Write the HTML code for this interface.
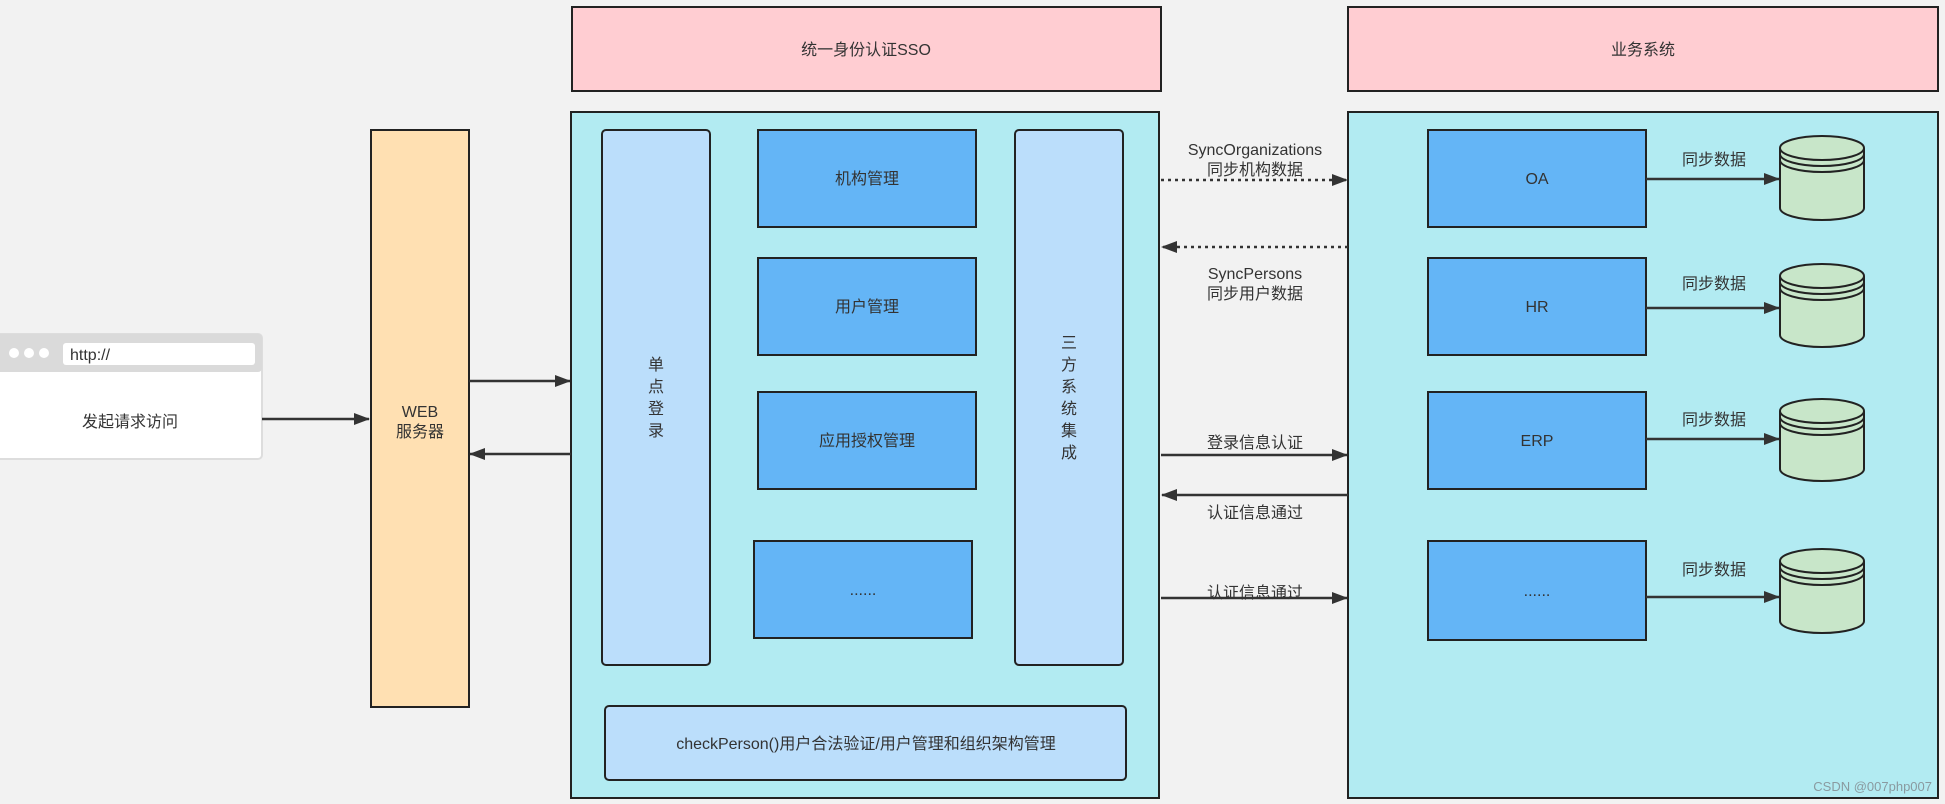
<!DOCTYPE html>
<html><head><meta charset="utf-8"><style>
html,body{margin:0;padding:0;background:#f2f2f2;}
svg{display:block;}
text{font-family:"Liberation Sans","Noto Sans CJK SC",sans-serif;font-size:16px;fill:#333;}
</style></head><body>
<svg width="1945" height="804" viewBox="0 0 1945 804" xmlns="http://www.w3.org/2000/svg">
<defs>
<marker id="a" viewBox="0 0 16 12" refX="15" refY="6" markerWidth="16" markerHeight="12" orient="auto-start-reverse" markerUnits="userSpaceOnUse">
<path d="M0,0 L16,6 L0,12 Z" fill="#333"/>
</marker>
</defs>
<rect width="1945" height="804" fill="#f2f2f2"/>
<rect x="572" y="7" width="589" height="84" fill="#ffcdd2" stroke="#222" stroke-width="2"/>
<text x="866" y="55" text-anchor="middle">统一身份认证SSO</text>
<rect x="1348" y="7" width="590" height="84" fill="#ffcdd2" stroke="#222" stroke-width="2"/>
<text x="1643" y="55" text-anchor="middle">业务系统</text>
<rect x="571" y="112" width="588" height="686" fill="#b2ebf2" stroke="#222" stroke-width="2"/>
<rect x="1348" y="112" width="590" height="686" fill="#b2ebf2" stroke="#222" stroke-width="2"/>
<rect x="-4" y="334" width="266" height="125" rx="4" fill="#fff" stroke="#ddd" stroke-width="2"/>
<rect x="-4" y="334" width="266" height="38" rx="4" fill="#dadada"/>
<circle cx="14" cy="353" r="5" fill="#fff"/><circle cx="29" cy="353" r="5" fill="#fff"/><circle cx="44" cy="353" r="5" fill="#fff"/>
<rect x="63" y="343" width="192" height="22" rx="3" fill="#fff"/>
<text x="70" y="360">http://</text>
<text x="130" y="427" text-anchor="middle">发起请求访问</text>
<rect x="371" y="130" width="98" height="577" fill="#ffe0b2" stroke="#222" stroke-width="2"/>
<text x="420" y="417" text-anchor="middle">WEB</text>
<text x="420" y="437" text-anchor="middle">服务器</text>
<rect x="602" y="130" width="108" height="535" rx="4" fill="#bbdefb" stroke="#222" stroke-width="2"/>
<text x="656" y="370" text-anchor="middle">单</text><text x="656" y="392" text-anchor="middle">点</text><text x="656" y="414" text-anchor="middle">登</text><text x="656" y="436" text-anchor="middle">录</text>
<rect x="1015" y="130" width="108" height="535" rx="4" fill="#bbdefb" stroke="#222" stroke-width="2"/>
<text x="1069" y="348" text-anchor="middle">三</text><text x="1069" y="370" text-anchor="middle">方</text><text x="1069" y="392" text-anchor="middle">系</text><text x="1069" y="414" text-anchor="middle">统</text><text x="1069" y="436" text-anchor="middle">集</text><text x="1069" y="458" text-anchor="middle">成</text>
<g fill="#64b5f6" stroke="#222" stroke-width="2">
<rect x="758" y="130" width="218" height="97"/>
<rect x="758" y="258" width="218" height="97"/>
<rect x="758" y="392" width="218" height="97"/>
<rect x="754" y="541" width="218" height="97"/>
<rect x="1428" y="130" width="218" height="97"/>
<rect x="1428" y="258" width="218" height="97"/>
<rect x="1428" y="392" width="218" height="97"/>
<rect x="1428" y="541" width="218" height="99"/>
</g>
<text x="867" y="184" text-anchor="middle">机构管理</text>
<text x="867" y="312" text-anchor="middle">用户管理</text>
<text x="867" y="446" text-anchor="middle">应用授权管理</text>
<text x="863" y="595" text-anchor="middle">......</text>
<text x="1537" y="184" text-anchor="middle">OA</text>
<text x="1537" y="312" text-anchor="middle">HR</text>
<text x="1537" y="446" text-anchor="middle">ERP</text>
<text x="1537" y="596" text-anchor="middle">......</text>
<rect x="605" y="706" width="521" height="74" rx="4" fill="#bbdefb" stroke="#222" stroke-width="2"/>
<text x="866" y="749" text-anchor="middle">checkPerson()用户合法验证/用户管理和组织架构管理</text>
<g fill="#c8e6c9" stroke="#222" stroke-width="2">
<g transform="translate(1780,136)"><path d="M0,12 L0,72 A42,12 0 0 0 84,72 L84,12"/><ellipse cx="42" cy="12" rx="42" ry="12"/><path d="M0,18 A42,12 0 0 0 84,18 M0,24 A42,12 0 0 0 84,24" fill="none"/></g>
<g transform="translate(1780,264)"><path d="M0,12 L0,71 A42,12 0 0 0 84,71 L84,12"/><ellipse cx="42" cy="12" rx="42" ry="12"/><path d="M0,18 A42,12 0 0 0 84,18 M0,24 A42,12 0 0 0 84,24" fill="none"/></g>
<g transform="translate(1780,399)"><path d="M0,12 L0,70 A42,12 0 0 0 84,70 L84,12"/><ellipse cx="42" cy="12" rx="42" ry="12"/><path d="M0,18 A42,12 0 0 0 84,18 M0,24 A42,12 0 0 0 84,24" fill="none"/></g>
<g transform="translate(1780,549)"><path d="M0,12 L0,72 A42,12 0 0 0 84,72 L84,12"/><ellipse cx="42" cy="12" rx="42" ry="12"/><path d="M0,18 A42,12 0 0 0 84,18 M0,24 A42,12 0 0 0 84,24" fill="none"/></g>
</g>
<g stroke="#333" stroke-width="2.5" fill="none" marker-end="url(#a)">
<line x1="262" y1="419" x2="369" y2="419"/>
<line x1="469" y1="381" x2="570" y2="381"/>
<line x1="571" y1="454" x2="470" y2="454"/>
<line x1="1646" y1="179" x2="1779" y2="179"/>
<line x1="1646" y1="308" x2="1779" y2="308"/>
<line x1="1646" y1="439" x2="1779" y2="439"/>
<line x1="1646" y1="597" x2="1779" y2="597"/>
<line x1="1161" y1="180" x2="1347" y2="180" stroke-dasharray="3,4"/>
<line x1="1348" y1="247" x2="1162" y2="247" stroke-dasharray="3,4"/>
<line x1="1161" y1="455" x2="1347" y2="455"/>
<line x1="1348" y1="495" x2="1162" y2="495"/>
<line x1="1161" y1="598" x2="1347" y2="598"/>
</g>
<text x="1714" y="165" text-anchor="middle">同步数据</text>
<text x="1714" y="289" text-anchor="middle">同步数据</text>
<text x="1714" y="425" text-anchor="middle">同步数据</text>
<text x="1714" y="575" text-anchor="middle">同步数据</text>
<text x="1255" y="155" text-anchor="middle">SyncOrganizations</text>
<text x="1255" y="175" text-anchor="middle">同步机构数据</text>
<text x="1255" y="279" text-anchor="middle">SyncPersons</text>
<text x="1255" y="299" text-anchor="middle">同步用户数据</text>
<text x="1255" y="448" text-anchor="middle">登录信息认证</text>
<text x="1255" y="518" text-anchor="middle">认证信息通过</text>
<text x="1255" y="598" text-anchor="middle">认证信息通过</text>
<text x="1932" y="791" text-anchor="end" style="font-size:13px;fill:#8a9aa0">CSDN @007php007</text>
</svg>
</body></html>
